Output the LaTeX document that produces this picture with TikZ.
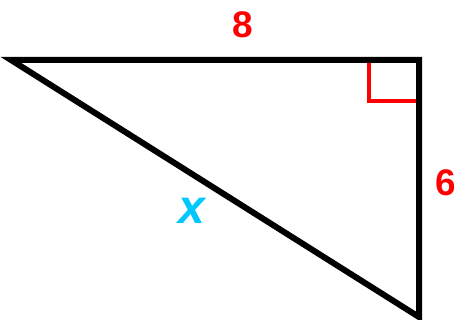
\documentclass[tikz,border=0pt]{standalone}
\usepackage{fontspec}
\setmainfont{Liberation Sans}
\definecolor{lblred}{RGB}{255,0,0}
\definecolor{lblcyan}{RGB}{0,200,255}
\begin{document}
\begin{tikzpicture}[x=1pt,y=1pt,
  side/.style={draw=black,line width=6pt,line join=miter},
  rmark/.style={draw=lblred,line width=4pt},
  numlbl/.style={text=lblred,font=\bfseries\fontsize{37}{37}\selectfont,inner sep=0pt},
  varlbl/.style={text=lblcyan,font=\bfseries\itshape\fontsize{48}{48}\selectfont,inner sep=0pt}]
\useasboundingbox (0,0) rectangle (454,320);
\coordinate (A) at (11,260);
\coordinate (B) at (419,260);
\coordinate (C) at (419,3);
\coordinate (M1) at (369,260);
\coordinate (M2) at (369,219);
\coordinate (M3) at (419,219);
\draw[rmark] (M1) -- (M2) -- (M3);
\draw[side] (B) -- (C) -- (A) -- (B) -- (C);
\node[numlbl] (l8) at (243,295) {8};
\node[numlbl] (l6) at (446,137) {6};
\node[varlbl] (lx) at (192,109) {x};
\end{tikzpicture}
\end{document}
